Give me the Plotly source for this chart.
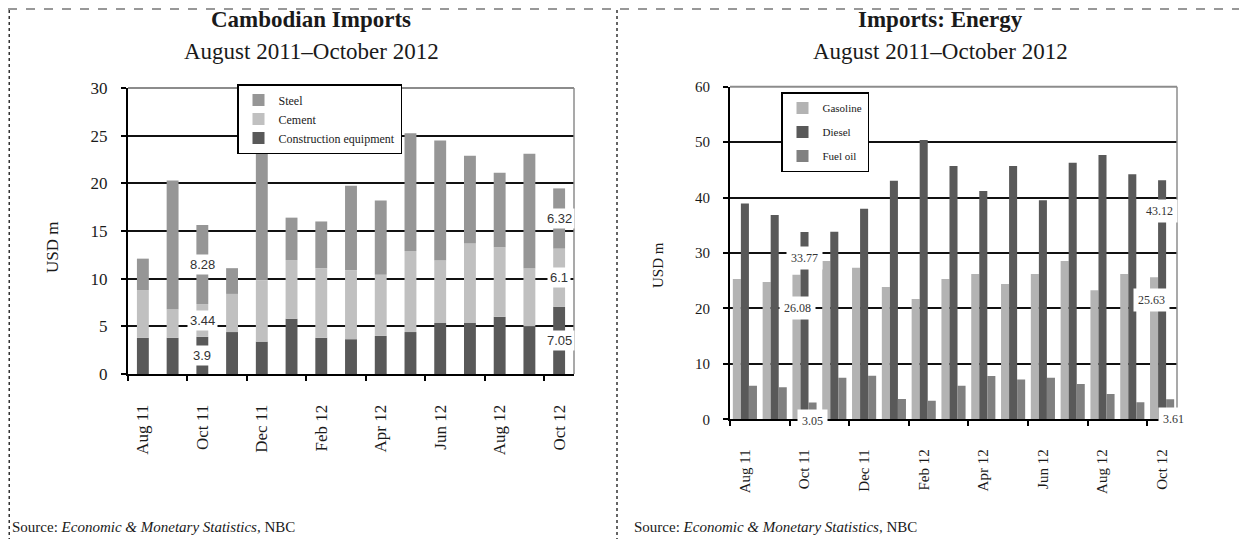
import plotly.graph_objects as go

# Months shown on both charts (Aug 2011 - Oct 2012)
months = ["Aug 11", "Sep 11", "Oct 11", "Nov 11", "Dec 11", "Jan 12", "Feb 12", "Mar 12",
          "Apr 12", "May 12", "Jun 12", "Jul 12", "Aug 12", "Sep 12", "Oct 12"]
tick_labels = months[::2]

# Cambodian imports, USD m (stacked)
construction = [3.8, 3.8, 3.9, 4.4, 3.4, 5.8, 3.8, 3.65, 4.0, 4.4, 5.35, 5.35, 6.0, 5.0, 7.05]
cement = [5.0, 3.0, 3.44, 4.0, 6.45, 6.15, 7.3, 7.25, 6.4, 8.5, 6.55, 8.35, 7.3, 6.1, 6.1]
steel = [3.3, 13.5, 8.28, 2.7, 14.2, 4.45, 4.9, 8.85, 7.8, 12.35, 12.6, 9.2, 7.8, 12.0, 6.32]

# Imports: energy, USD m (grouped)
gasoline = [25.3, 24.77, 26.08, 28.55, 27.35, 23.86, 21.7, 25.3, 26.2, 24.4, 26.2, 28.55, 23.27, 26.2, 25.63]
diesel = [38.95, 36.85, 33.77, 33.85, 38.0, 43.05, 50.4, 45.7, 41.2, 45.7, 39.5, 46.3, 47.7, 44.2, 43.12]
fuel_oil = [6.07, 5.77, 3.05, 7.5, 7.87, 3.66, 3.36, 6.07, 7.8, 7.2, 7.5, 6.37, 4.56, 3.06, 3.61]

SERIF = "Liberation Serif"
SANS = "Liberation Sans"
TXT = "#1a1a1a"
W, H = 1247, 539
OFF = 8  # page body margin in the browser


# convert screen pixel positions to paper coordinates
def px(v):
    return (v - OFF) / W


def py(v):
    return 1 - (v - OFF) / H


x = list(range(len(months)))
fig = go.Figure()

# left chart: stacked via base, all in one offset group
bottoms = [0] * len(x)
left_series = [("Construction equipment", construction, "#595959"),
               ("Cement", cement, "#c0c0c0"),
               ("Steel", steel, "#969696")]
for name, vals, col in left_series:
    fig.add_trace(go.Bar(x=x, y=vals, base=list(bottoms), name=name, marker_color=col,
                         marker_line_width=0, width=0.4, offsetgroup="stack",
                         xaxis="x", yaxis="y", legend="legend"))
    bottoms = [b + v for b, v in zip(bottoms, vals)]

# right chart: grouped
bw = 0.27
right_series = [("Gasoline", gasoline, "#b3b3b3"),
                ("Diesel", diesel, "#595959"),
                ("Fuel oil", fuel_oil, "#808080")]
for k, (name, vals, col) in enumerate(right_series):
    fig.add_trace(go.Bar(x=x, y=vals, name=name, marker_color=col, marker_line_width=0,
                         width=bw, offset=(k - 1.5) * bw, xaxis="x2", yaxis="y2",
                         legend="legend2", legendgroup=name))

annotations = []

# data labels on left chart (Oct 11 and Oct 12), centred in each segment
for i in [2, 14]:
    base = 0
    for name, vals, col in left_series:
        annotations.append(dict(x=i, y=base + vals[i] / 2, xref="x", yref="y",
                                text=f"{vals[i]:g}", showarrow=False, bgcolor="white",
                                borderpad=2, font=dict(family=SANS, size=13, color="#333")))
        base += vals[i]

# data labels on right chart, nudged like the original (series index, month index, dx, dy px)
right_labels = [(1, 2, 0, -26), (0, 2, 1, -33), (2, 2, 0, -19),
                (1, 14, -3, -31), (0, 14, -3, -23), (2, 14, 3, -20)]
for k, i, dx, dy in right_labels:
    vals = right_series[k][1]
    annotations.append(dict(x=i + (k - 1) * bw, y=vals[i], xref="x2", yref="y2",
                            text=f"{vals[i]:.2f}", showarrow=False, bgcolor="white",
                            borderpad=4, xshift=dx, yshift=dy,
                            font=dict(family=SERIF, size=12, color="#333")))


def label(xp, yp, text, size, **kw):
    d = dict(x=px(xp), y=py(yp), xref="paper", yref="paper", showarrow=False,
             xanchor="center", yanchor="middle", text=text,
             font=dict(family=SERIF, size=size, color=TXT))
    d.update(kw)
    return d


# titles, axis titles, sources
for cx, t in [(311, "Cambodian Imports"), (940, "Imports: Energy")]:
    annotations.append(label(cx, 19, f"<b>{t}</b>", 23))
    annotations.append(label(cx, 52, "August 2011–October 2012", 23))
annotations.append(label(52, 248, "USD m", 17, textangle=-90))
annotations.append(label(658, 265, "USD m", 15, textangle=-90))
for sx in [10, 632]:
    annotations.append(label(sx, 527, "Source: <i>Economic & Monetary Statistics,</i> NBC", 15,
                             xanchor="left"))

boundaries = [v - 0.5 for v in x[::2]]


def xaxis_style(domain, fsize, standoff):
    return dict(domain=domain, range=[-0.5, len(x) - 0.5], tickvals=x[::2], ticktext=tick_labels,
                tickangle=-90, ticks="", showline=True, linecolor="black", linewidth=2,
                showgrid=False, zeroline=False, ticklabelstandoff=standoff, automargin=False,
                tickfont=dict(family=SERIF, size=fsize, color=TXT),
                minor=dict(tickvals=boundaries, ticks="outside", ticklen=5, tickwidth=2,
                           tickcolor="black", showgrid=False))


def yaxis_style(domain, top, step, fsize, anchor):
    return dict(domain=domain, range=[0, top], dtick=step, anchor=anchor, showline=True,
                linecolor="black", linewidth=2, ticks="outside", ticklen=5, tickwidth=2,
                tickcolor="black", showgrid=True, gridcolor="#111", gridwidth=1.5,
                zeroline=False, ticklabelstandoff=10, automargin=False,
                tickfont=dict(family=SERIF, size=fsize, color=TXT))


shapes = []
# grey top and right frame of each plot area
for xr, yr in [("x domain", "y domain"), ("x2 domain", "y2 domain")]:
    shapes.append(dict(type="line", xref=xr, yref=yr, x0=0, x1=1, y0=1, y1=1, layer="above",
                       line=dict(color="#8c8c8c", width=2)))
    shapes.append(dict(type="line", xref=xr, yref=yr, x0=1, x1=1, y0=0, y1=1, layer="above",
                       line=dict(color="#8c8c8c", width=1.5)))
# dotted page frame
shapes.append(dict(type="line", xref="paper", yref="paper", x0=0, x1=1, y0=0.998, y1=0.998,
                   line=dict(color="#777", width=1.5, dash="dash")))
for lx in [0.001, px(617)]:
    shapes.append(dict(type="line", xref="paper", yref="paper", x0=lx, x1=lx, y0=0, y1=0.998,
                       line=dict(color="#333", width=1.5, dash="dot")))

fig.update_layout(
    width=W, height=H,
    margin=dict(l=0, r=0, t=0, b=0, pad=0, autoexpand=False),
    paper_bgcolor="white", plot_bgcolor="white",
    barmode="group",
    xaxis=xaxis_style([px(128), px(574)], 17, 22) | dict(anchor="y"),
    yaxis=yaxis_style([py(374), py(88)], 30, 5, 17, "x"),
    xaxis2=xaxis_style([px(730), px(1177)], 15, 22) | dict(anchor="y2"),
    yaxis2=yaxis_style([py(419.3), py(86.7)], 60, 10, 15, "x2"),
    legend=dict(x=px(237), y=py(84), xanchor="left", yanchor="top", traceorder="reversed",
                bgcolor="white", bordercolor="black", borderwidth=1.5, itemwidth=30,
                font=dict(family=SERIF, size=12, color=TXT), tracegroupgap=0),
    legend2=dict(x=px(781), y=py(92), xanchor="left", yanchor="top", traceorder="grouped",
                 bgcolor="white", bordercolor="black", borderwidth=1.5, itemwidth=30,
                 font=dict(family=SERIF, size=11, color=TXT), tracegroupgap=5),
    annotations=annotations,
    shapes=shapes,
    showlegend=True,
)

fig.write_html("out.html")
